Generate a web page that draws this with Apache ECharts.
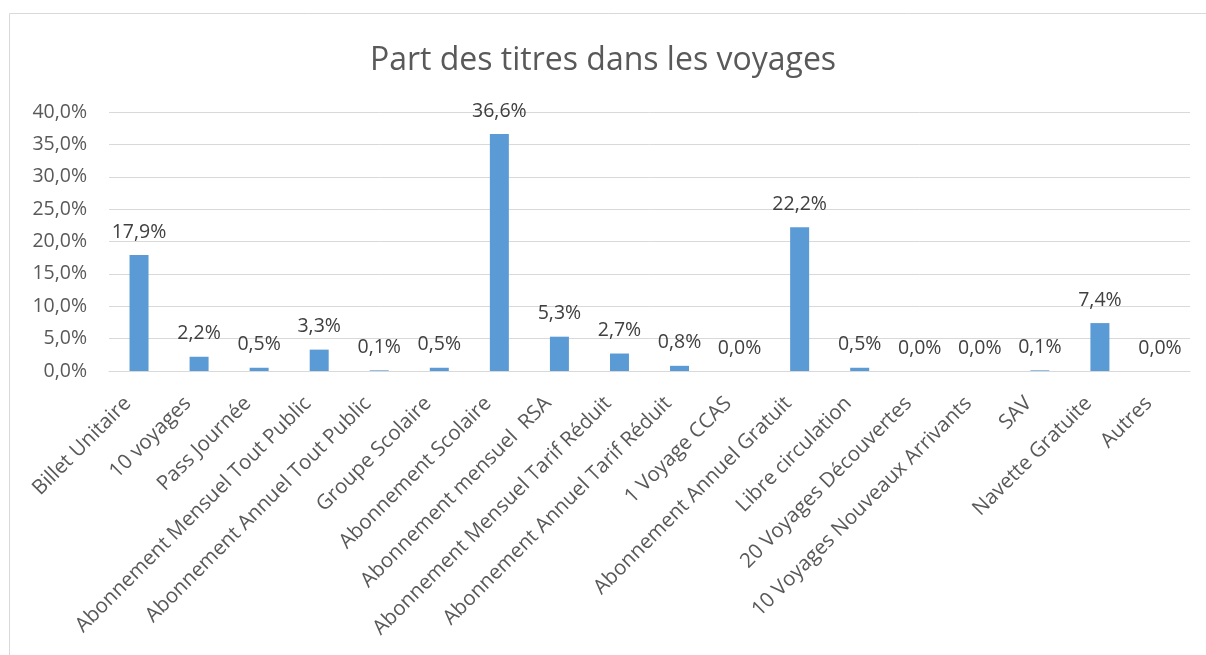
<!DOCTYPE html>
<html>
<head>
<meta charset="utf-8">
<script src="https://cdn.jsdelivr.net/npm/echarts@6/dist/echarts.min.js"></script>
<style>
  html, body { margin: 0; padding: 0; background: #fff; }
  #chart { width: 1206px; height: 655px; }
</style>
</head>
<body>
<div id="chart"></div>
<script>
const categories = [
  'Billet Unitaire', '10 voyages', 'Pass Journée', 'Abonnement Mensuel Tout Public',
  'Abonnement Annuel Tout Public', 'Groupe Scolaire', 'Abonnement Scolaire',
  'Abonnement mensuel  RSA', 'Abonnement Mensuel Tarif Réduit',
  'Abonnement Annuel Tarif Réduit', '1 Voyage CCAS', 'Abonnement Annuel Gratuit',
  'Libre circulation', '20 Voyages Découvertes', '10 Voyages Nouveaux Arrivants',
  'SAV', 'Navette Gratuite', 'Autres'
]
const shares = [17.9, 2.2, 0.5, 3.3, 0.1, 0.5, 36.6, 5.3, 2.7, 0.8, 0.0, 22.2, 0.5, 0.0, 0.0, 0.1, 7.4, 0.0]
const yTicks = [0, 5, 10, 15, 20, 25, 30, 35, 40]

const fmt = (v) => Number(v).toFixed(1).replace('.', ',') + '%'
const font = 'Open Sans'
const textColor = '#595959'

const chart = echarts.init(document.getElementById('chart'))

const option = {
  animation: false,
  backgroundColor: '#fff',
  textStyle: { fontFamily: font },
  title: {
    text: 'Part des titres dans les voyages',
    left: 'center',
    top: 40,
    textStyle: { fontFamily: font, fontSize: 32, fontWeight: 'normal', color: textColor }
  },
  graphic: [{
    type: 'rect',
    shape: { x: 9.5, y: 13.5, width: 1210, height: 660 },
    style: { fill: 'none', stroke: '#d9d9d9', lineWidth: 1 },
    silent: true
  }],
  grid: { left: 109, right: 16, top: 112, bottom: 284 },
  xAxis: {
    type: 'category',
    data: categories,
    axisLine: { lineStyle: { color: '#d9d9d9' } },
    axisTick: { show: false },
    axisLabel: {
      interval: 0,
      rotate: 45,
      margin: 18,
      padding: [0, 16, 0, 0],
      fontFamily: font,
      fontSize: 20.5,
      color: textColor
    }
  },
  yAxis: {
    type: 'value',
    min: yTicks[0],
    max: yTicks[yTicks.length - 1],
    interval: yTicks[1] - yTicks[0],
    axisLine: { show: false },
    axisTick: { show: false },
    splitLine: { lineStyle: { color: '#d9d9d9' } },
    axisLabel: {
      margin: 22,
      fontFamily: font,
      fontSize: 19.5,
      color: textColor,
      formatter: fmt
    }
  },
  series: [{
    type: 'bar',
    data: shares,
    barWidth: 19,
    itemStyle: { color: '#5b9bd5' },
    label: {
      show: true,
      position: 'top',
      distance: 13,
      fontFamily: font,
      fontSize: 19.5,
      color: '#404040',
      formatter: (p) => fmt(p.value)
    }
  }]
}

chart.setOption(option)
</script>
</body>
</html>
